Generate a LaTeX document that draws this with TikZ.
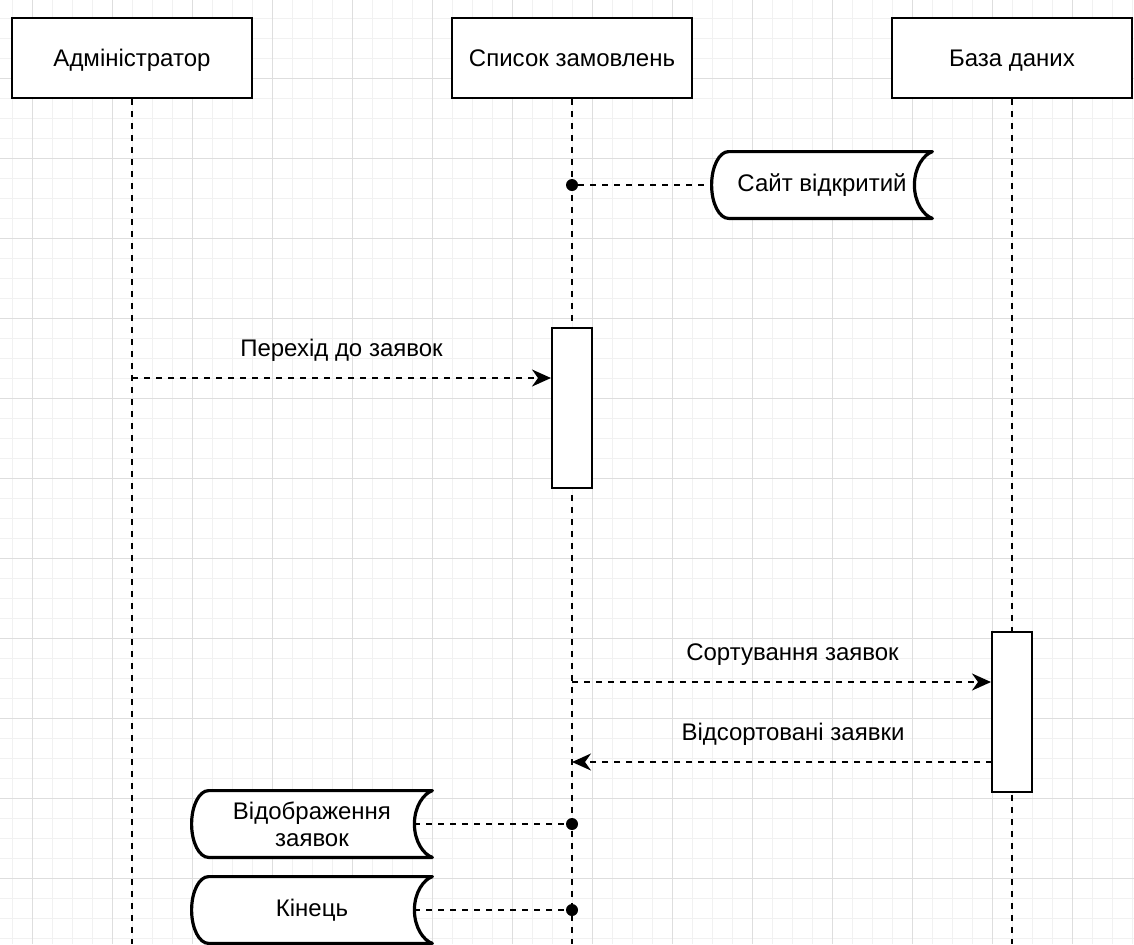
\documentclass[tikz,border=0pt]{standalone}
\usepackage{fontspec}
\setmainfont{Liberation Sans}
\usetikzlibrary{arrows.meta,backgrounds}

\definecolor{gridminor}{HTML}{F1F1F1}
\definecolor{gridmajor}{HTML}{DEDEDE}

\tikzset{
	actor/.style={draw, line width=1pt, fill=white, minimum width=120pt, minimum height=40pt, inner sep=0pt, text height=8.6pt, text depth=0pt},
	actbox/.style={draw, line width=1pt, fill=white, minimum width=20pt, minimum height=80pt, inner sep=0pt},
	lifeline/.style={line width=1pt, dash pattern=on 3pt off 3pt},
	msgline/.style={line width=1pt, dash pattern=on 3pt off 3pt},
	msgarrow/.style={msgline, -{Stealth[length=9.5pt, width=8.5pt, inset=3pt]}},
	msglabel/.style={above=8pt, inner sep=0pt},
	flagbox/.style={minimum width=120pt, minimum height=33pt, inner sep=0pt, align=center, font=\fontsize{12}{13.5}\selectfont},
	flagline/.style={line width=1.6pt, fill=white, line join=round},
	dotnode/.style={circle, fill=black, minimum size=6pt, inner sep=0pt},
}

% outline of a flag node, drawn behind its text
\newcommand{\flagoutline}[1]{%
	\draw[flagline] ([xshift=8.5pt]#1.north west) -- (#1.north east)
		.. controls ([xshift=-4.5pt,yshift=-1.5pt]#1.north east) and ([xshift=-9pt,yshift=-8pt]#1.north east) .. ([xshift=-9pt]#1.east)
		.. controls ([xshift=-9pt,yshift=8pt]#1.south east) and ([xshift=-4.5pt,yshift=1.5pt]#1.south east) .. (#1.south east)
		-- ([xshift=8.5pt]#1.south west)
		.. controls ([xshift=3.8pt]#1.south west) and ([yshift=7.5pt]#1.south west) .. (#1.west)
		.. controls ([yshift=-7.5pt]#1.north west) and ([xshift=3.8pt]#1.north west) .. ([xshift=8.5pt]#1.north west) -- cycle;}

\begin{document}
\begin{tikzpicture}[x=1pt, y=-1pt, font=\fontsize{12}{14}\selectfont]
\useasboundingbox (0,0) rectangle (567,472);
\begin{scope}[on background layer]
	\fill[white] (0,0) rectangle (567,472);
	\foreach \gx in {6,16,...,566} \draw[gridminor, line width=0.5pt] (\gx,0) -- (\gx,472);
	\foreach \gy in {9,19,...,469} \draw[gridminor, line width=0.5pt] (0,\gy) -- (567,\gy);
	\foreach \gx in {16,56,...,536} \draw[gridmajor, line width=0.5pt] (\gx,0) -- (\gx,472);
	\foreach \gy in {39,79,...,439} \draw[gridmajor, line width=0.5pt] (0,\gy) -- (567,\gy);
\end{scope}

	% actors and lifelines
	\node[actor] (adm) at (66,29) {Адміністратор};
	\node[actor] (list) at (286,29) {Список замовлень};
	\node[actor] (db) at (506,29) {База даних};
	\coordinate (admend) at (66,472);
	\coordinate (listend) at (286,472);
	\coordinate (dbend) at (506,472);
	\draw[lifeline] (adm.south) -- (admend);
	\draw[lifeline] (list.south) -- (listend);
	\draw[lifeline] (db.south) -- (dbend);

	% activations
	\node[actbox] (actlist) at (286,204) {};
	\node[actbox] (actdb) at (506,356) {};

	% messages
	\coordinate (m1) at (66,189);
	\coordinate (m2) at (286,341);
	\coordinate (m3) at (496,381);
	\draw[msgarrow] (m1) -- (m1 -| actlist.west) node[midway, msglabel] {Перехід до заявок};
	\draw[msgarrow] (m2) -- (m2 -| actdb.west) node[midway, msglabel, xshift=5.5pt] {Сортування заявок};
	\draw[msgarrow] (m3) -- (m3 -| list) node[midway, msglabel, xshift=5.5pt] {Відсортовані заявки};

	% states
	\node[flagbox, minimum width=110pt] (siteopen) at (411,92.5) {Сайт відкритий};
	\node[flagbox] (showreq) at (156,412) {Відображення\\заявок};
	\node[flagbox] (finish) at (156,455) {Кінець};
	\node[dotnode] (dot1) at (286,92.5) {};
	\node[dotnode] (dot2) at (286,412) {};
	\node[dotnode] (dot3) at (286,455) {};
	\draw[msgline] (dot1) -- (siteopen.west);
	\draw[msgline] ([xshift=-9pt]showreq.east) -- (dot2);
	\draw[msgline] ([xshift=-9pt]finish.east) -- (dot3);
\begin{scope}[on background layer]
	\flagoutline{siteopen}
	\flagoutline{showreq}
	\flagoutline{finish}
\end{scope}
\end{tikzpicture}
\end{document}
